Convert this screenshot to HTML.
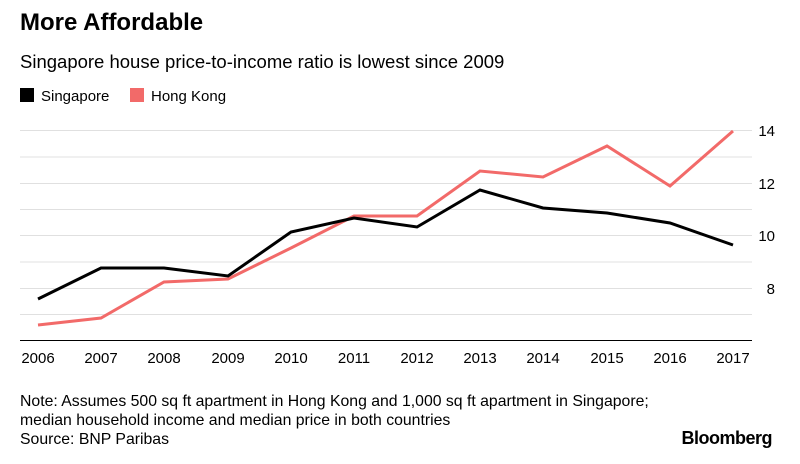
<!DOCTYPE html>
<html><head><meta charset="utf-8"><style>
body{margin:0;background:#fff;width:800px;height:459px;overflow:hidden;font-family:"Liberation Sans",Arial,sans-serif;}
</style></head><body>
<svg width="800" height="459" xmlns="http://www.w3.org/2000/svg" font-family="Liberation Sans, Arial, sans-serif">
<text x="20" y="30" font-size="24" font-weight="bold" fill="#000">More Affordable</text>
<text x="20" y="68" font-size="18.5" fill="#000">Singapore house price-to-income ratio is lowest since 2009</text>
<rect x="20" y="88" width="14" height="14" fill="#000"/>
<text x="41" y="101" font-size="15">Singapore</text>
<rect x="130" y="88" width="14" height="14" fill="#f26a69"/>
<text x="151" y="101" font-size="15">Hong Kong</text>
<g stroke="#e0e0e0" stroke-width="1">
<line x1="20" x2="752" y1="130.5" y2="130.5"/>
<line x1="20" x2="752" y1="157" y2="157"/>
<line x1="20" x2="752" y1="183.5" y2="183.5"/>
<line x1="20" x2="752" y1="209.5" y2="209.5"/>
<line x1="20" x2="752" y1="235.5" y2="235.5"/>
<line x1="20" x2="752" y1="262" y2="262"/>
<line x1="20" x2="752" y1="288.5" y2="288.5"/>
<line x1="20" x2="752" y1="314.5" y2="314.5"/>
</g>
<line x1="20" x2="752" y1="340.5" y2="340.5" stroke="#000" stroke-width="1"/>
<g font-size="15" fill="#000" text-anchor="end">
<text x="775" y="136">14</text><text x="775" y="189">12</text><text x="775" y="241">10</text><text x="775" y="294">8</text>
</g>
<g font-size="15" fill="#000" text-anchor="middle">
<text x="38" y="363">2006</text><text x="101" y="363">2007</text><text x="164" y="363">2008</text><text x="228" y="363">2009</text><text x="291" y="363">2010</text><text x="354" y="363">2011</text><text x="417" y="363">2012</text><text x="480" y="363">2013</text><text x="543" y="363">2014</text><text x="607" y="363">2015</text><text x="670" y="363">2016</text><text x="733" y="363">2017</text>
</g>
<polyline fill="none" stroke="#f26a69" stroke-width="3" points="38,325 101,318 164,282 228,279 291,248 354,216 417,216 480,171 543,177 607,146 670,186 733,131"/>
<polyline fill="none" stroke="#000" stroke-width="3" points="38,299 101,268 164,268 228,276 291,232 354,218 417,227 480,190 543,208 607,213 670,223 733,245"/>
<g font-size="15.8" fill="#000">
<text x="20" y="406">Note: Assumes 500 sq ft apartment in Hong Kong and 1,000 sq ft apartment in Singapore;</text>
<text x="20" y="425">median household income and median price in both countries</text>
<text x="20" y="444">Source: BNP Paribas</text>
</g>
<text x="772" y="444" font-size="18" font-weight="bold" text-anchor="end" letter-spacing="-0.5">Bloomberg</text>
</svg>
</body></html>
